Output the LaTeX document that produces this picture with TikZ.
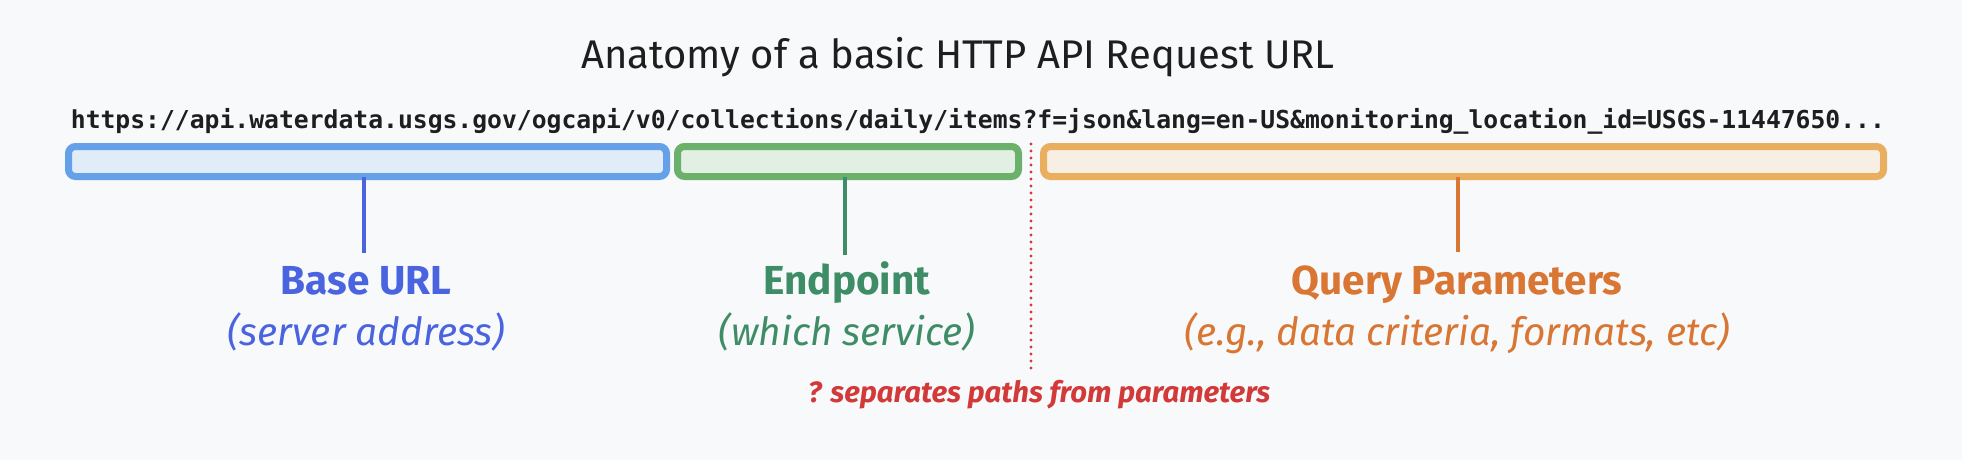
\documentclass[tikz,border=0pt]{standalone}
\usepackage{fontspec}
\setmainfont{Fira Sans}
\setmonofont{DejaVu Sans Mono}
\definecolor{bg}{HTML}{F8F9FB}
\definecolor{blueline}{HTML}{65A1E9}
\definecolor{bluefill}{HTML}{E0ECF8}
\definecolor{greenline}{HTML}{6BB06B}
\definecolor{greenfill}{HTML}{E1F0E2}
\definecolor{orangeline}{HTML}{E9AF5E}
\definecolor{orangefill}{HTML}{F8EFE4}
\definecolor{bluetext}{HTML}{4A64E0}
\definecolor{greentext}{HTML}{3E8D66}
\definecolor{orangetext}{HTML}{D97634}
\definecolor{redtext}{HTML}{D23A3A}
\definecolor{titletext}{HTML}{1E1E1E}
\tikzset{
  segbox/.style={draw, line width=7pt, rounded corners=7pt, inner sep=0pt},
  conn/.style={line width=3.2pt},
  headlbl/.style={anchor=base, inner sep=0pt, font=\fontsize{40.5}{44}\selectfont\bfseries},
  sublbl/.style={anchor=base, inner sep=0pt, font=\fontsize{38.8}{42}\selectfont\itshape},
}
\begin{document}
\begin{tikzpicture}[x=1pt,y=-1pt]
\fill[bg] (0,0) rectangle (1962,460);
\useasboundingbox (0,0) rectangle (1962,460);
% title
\node[anchor=base, inner sep=0pt, text=titletext, font=\fontsize{40}{44}\selectfont] (title) at (958,68) {Anatomy of a basic HTTP API Request URL};
% URL
\node[anchor=base, inner sep=0pt, text=titletext, font=\fontsize{24.7}{30}\selectfont\ttfamily\bfseries] (url) at (978,128) {https://api.waterdata.usgs.gov/ogcapi/v0/collections/daily/items?f=json\&lang=en-US\&monitoring\_location\_id=USGS-11447650...};
% boxes
\draw[segbox, blueline, fill=bluefill] (68.5,146.5) rectangle (666.5,176.5);
\node[inner sep=0pt, minimum width=598pt, minimum height=30pt] (bbox) at (367.5,161.5) {};
\draw[segbox, greenline, fill=greenfill] (677.5,146.5) rectangle (1018.5,176.5);
\node[inner sep=0pt, minimum width=341pt, minimum height=30pt] (gbox) at (848,161.5) {};
\draw[segbox, orangeline, fill=orangefill] (1043.5,146.5) rectangle (1883.5,176.5);
\node[inner sep=0pt, minimum width=840pt, minimum height=30pt] (obox) at (1463.5,161.5) {};
% separator
\coordinate (septop) at (1031,144);
\coordinate (sepbot) at (1031,370);
\draw[redtext, line width=3.2pt, line cap=round, dash pattern=on 0pt off 7pt] (septop) -- (sepbot);
% connectors
\coordinate (bend) at (364,253);
\coordinate (gend) at (845,255);
\coordinate (oend) at (1458,252);
\draw[conn, bluetext] (bbox.south -| bend) -- (bend);
\draw[conn, greentext] (gbox.south -| gend) -- (gend);
\draw[conn, orangetext] (obox.south -| oend) -- (oend);
% labels
\node[headlbl, text=bluetext] (bl) at (366,294) {Base URL};
\node[sublbl, text=bluetext] (bs) at (366,345) {(server address)};
\node[headlbl, text=greentext] (gl) at (847,294) {Endpoint};
\node[sublbl, text=greentext] (gs) at (847,345) {(which service)};
\node[headlbl, text=orangetext] (ol) at (1457,294) {Query Parameters};
\node[sublbl, text=orangetext] (os) at (1457,345) {(e.g., data criteria, formats, etc)};
\node[anchor=base, inner sep=0pt, text=redtext, font=\fontsize{29.3}{32}\selectfont\bfseries\itshape] (sep) at (1039,402) {? separates paths from parameters};
\end{tikzpicture}
\end{document}
